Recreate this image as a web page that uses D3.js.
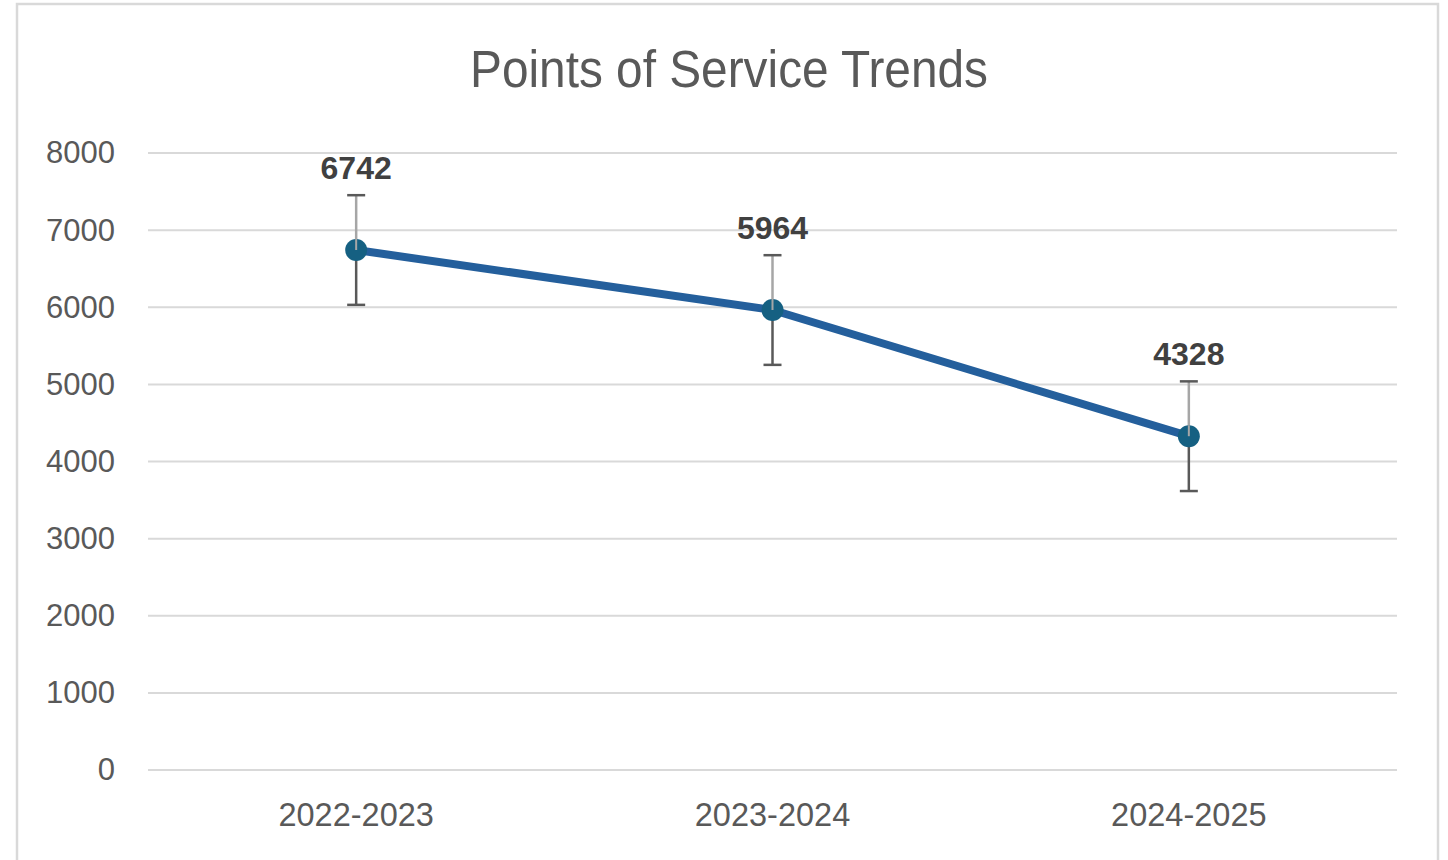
<!DOCTYPE html>
<html>
<head>
<meta charset="utf-8">
<script src="https://cdn.jsdelivr.net/npm/d3@7"></script>
<style>
  body { margin: 0; background: #fff; }
  svg { display: block; }
</style>
</head>
<body>
<div id="chart"></div>
<script>
// chart data
var seasons = ['2022-2023', '2023-2024', '2024-2025'];
var services = [6742, 5964, 4328];
var errorMargin = [711, 711, 711];
var yTicks = [0, 1000, 2000, 3000, 4000, 5000, 6000, 7000, 8000];

var width = 1448, height = 860;
var margin = { left: 148, right: 51, top: 153, bottom: 90 };

var svg = d3.select('#chart').append('svg')
    .attr('width', width)
    .attr('height', height);

// chart frame
svg.append('rect')
    .attr('x', 17).attr('y', 4)
    .attr('width', 1421).attr('height', 900)
    .attr('fill', '#fff')
    .attr('stroke', '#d9d9d9')
    .attr('stroke-width', 2.5);

// title is a narrow face in the original, squeeze it to the same width
svg.append('text')
    .attr('x', 729).attr('y', 87)
    .attr('text-anchor', 'middle')
    .attr('font-family', '"Liberation Sans", Arial, sans-serif')
    .attr('font-size', 51)
    .attr('textLength', 518)
    .attr('lengthAdjust', 'spacingAndGlyphs')
    .attr('fill', '#595959')
    .text('Points of Service Trends');

var x = d3.scaleBand()
    .domain(seasons)
    .range([margin.left, width - margin.right]);

var y = d3.scaleLinear()
    .domain([0, 8000])
    .range([height - margin.bottom, margin.top]);

// gridlines
svg.append('g').selectAll('line').data(yTicks).enter()
    .append('line')
    .attr('x1', margin.left).attr('x2', width - margin.right)
    .attr('y1', function (d) { return y(d); })
    .attr('y2', function (d) { return y(d); })
    .attr('stroke', '#d9d9d9')
    .attr('stroke-width', 2);

// y axis labels
var yAxis = svg.append('g')
    .attr('transform', 'translate(' + (margin.left - 33) + ',0)')
    .call(d3.axisLeft(y).tickValues(yTicks).tickFormat(d3.format('d')).tickSize(0).tickPadding(0));
yAxis.select('.domain').remove();
yAxis.selectAll('text')
    .attr('font-family', '"Liberation Sans", Arial, sans-serif')
    .attr('font-size', 31)
    .attr('fill', '#595959');

// x axis labels
var xAxis = svg.append('g')
    .attr('transform', 'translate(0,' + (height - margin.bottom) + ')')
    .call(d3.axisBottom(x).tickSize(0).tickPadding(33));
xAxis.select('.domain').remove();
xAxis.selectAll('text')
    .attr('font-family', '"Liberation Sans", Arial, sans-serif')
    .attr('font-size', 32.5)
    .attr('fill', '#595959');

var cx = function (d, i) { return x(seasons[i]) + x.bandwidth() / 2; };

// line
var line = d3.line()
    .x(function (d, i) { return cx(d, i); })
    .y(function (d) { return y(d); });

svg.append('path')
    .datum(services)
    .attr('d', line)
    .attr('fill', 'none')
    .attr('stroke', '#245f9c')
    .attr('stroke-width', 8)
    .attr('stroke-linejoin', 'round');

// error bars
var err = svg.append('g');
services.forEach(function (v, i) {
    var px = cx(v, i);
    err.append('line')
        .attr('x1', px).attr('x2', px)
        .attr('y1', y(v)).attr('y2', y(v + errorMargin[i]))
        .attr('stroke', '#a6a6a6').attr('stroke-width', 2.5);
    err.append('line')
        .attr('x1', px).attr('x2', px)
        .attr('y1', y(v)).attr('y2', y(v - errorMargin[i]))
        .attr('stroke', '#595959').attr('stroke-width', 2.5);
    [v + errorMargin[i], v - errorMargin[i]].forEach(function (e) {
        err.append('line')
            .attr('x1', px - 9).attr('x2', px + 9)
            .attr('y1', y(e)).attr('y2', y(e))
            .attr('stroke', '#595959').attr('stroke-width', 2.5);
    });
});

// markers
svg.append('g').selectAll('circle').data(services).enter()
    .append('circle')
    .attr('cx', cx)
    .attr('cy', function (d) { return y(d); })
    .attr('r', 11)
    .attr('fill', '#156082');

// light upper error bar stroke shows through the marker
svg.append('g').selectAll('line').data(services).enter()
    .append('line')
    .attr('x1', cx).attr('x2', cx)
    .attr('y1', function (d) { return y(d); })
    .attr('y2', function (d) { return y(d) - 11; })
    .attr('stroke', '#a6a6a6').attr('stroke-width', 2);

// data labels
svg.append('g').selectAll('text').data(services).enter()
    .append('text')
    .attr('x', cx)
    .attr('y', function (d) { return y(d) - 71; })
    .attr('text-anchor', 'middle')
    .attr('font-family', '"Liberation Sans", Arial, sans-serif')
    .attr('font-weight', 'bold')
    .attr('font-size', 32)
    .attr('fill', '#404040')
    .text(function (d) { return d; });
</script>
</body>
</html>
